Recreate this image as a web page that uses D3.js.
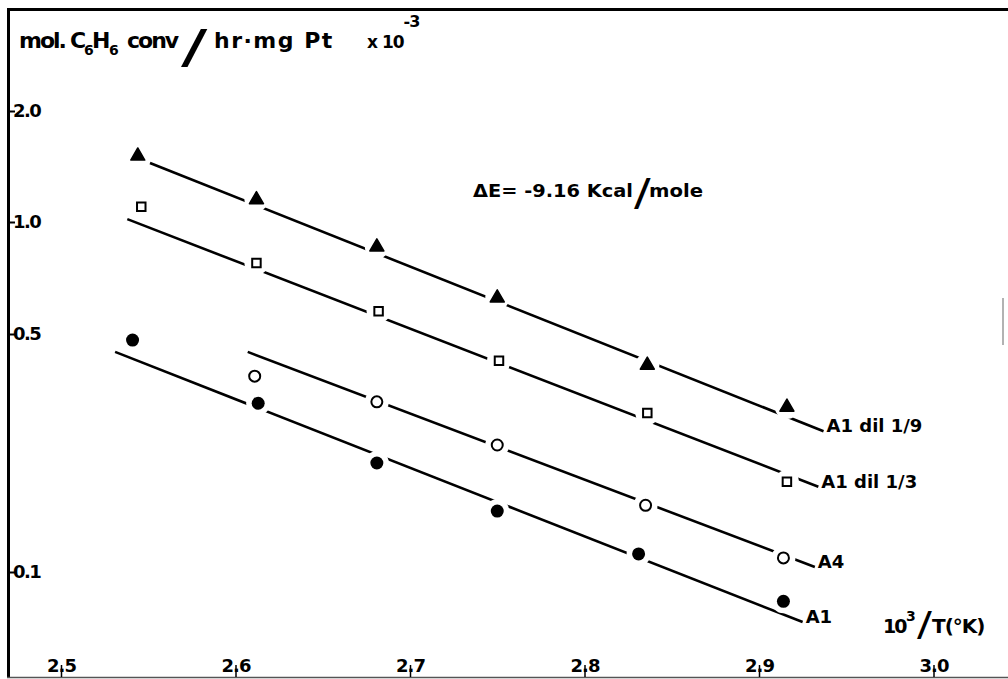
<!DOCTYPE html>
<html lang="en">
<head>
<meta charset="UTF-8">
<title>Benzene conversion vs 1/T</title>
<style>
  body { margin: 0; background: #fff; }
  svg text { font-family: "DejaVu Sans", sans-serif; font-weight: bold; fill: #000; }
</style>
</head>
<body>
<div id="chart"></div>
<script src="https://d3js.org/d3.v7.min.js"></script>
<script>
// 10^3/T (K) and rate (mol C6H6 conv / hr.mg Pt x 10^-3)
const triX = [2.544, 2.612, 2.681, 2.750, 2.836, 2.916];   // A1 dil 1/9
const triY = [1.51, 1.15, 0.857, 0.625, 0.405, 0.305];
const sqX = [2.546, 2.612, 2.682, 2.751, 2.836, 2.916];    // A1 dil 1/3
const sqY = [1.10, 0.776, 0.576, 0.417, 0.293, 0.184];
const ocX = [2.611, 2.681, 2.750, 2.835, 2.914];           // A4
const ocY = [0.376, 0.316, 0.236, 0.157, 0.110];
const fcX = [2.541, 2.613, 2.681, 2.750, 2.831, 2.914];    // A1
const fcY = [0.480, 0.313, 0.209, 0.151, 0.113, 0.082];

// drawn fit lines: [x0, y0, x1, y1]
const fitTri = [2.551, 1.446, 2.937, 0.259];
const fitSq = [2.538, 1.018, 2.934, 0.178];
const fitOc = [2.607, 0.443, 2.932, 0.1035];
const fitFc = [2.531, 0.443, 2.925, 0.0713];

const seriesNames = ["A1 dil 1/9", "A1 dil 1/3", "A4", "A1"];
const xTicks = [2.5, 2.6, 2.7, 2.8, 2.9, 3.0];
const yTicks = [2.0, 1.0, 0.5, 0.1];

const width = 1008, height = 679;

const svg = d3.select("#chart").append("svg")
    .attr("width", width)
    .attr("height", height);

const x = d3.scaleLinear().domain([2.5, 3.0]).range([61, 933.5]);
// the printed log axis is not quite even, so map each printed tick
const y = d3.scaleLog().domain([2.0, 1.0, 0.5, 0.1]).range([111, 222, 334, 572]);

// frame
svg.append("line").attr("x1", 8.5).attr("x2", 8.5).attr("y1", 9).attr("y2", 678)
    .attr("stroke", "#000").attr("stroke-width", 3);
svg.append("line").attr("x1", 7).attr("x2", 1008).attr("y1", 9.5).attr("y2", 9.5)
    .attr("stroke", "#000").attr("stroke-width", 3);
svg.append("line").attr("x1", 7).attr("x2", 1008).attr("y1", 677.5).attr("y2", 677.5)
    .attr("stroke", "#555").attr("stroke-width", 1.5);
svg.append("line").attr("x1", 1003).attr("x2", 1003).attr("y1", 298).attr("y2", 345)
    .attr("stroke", "#999").attr("stroke-width", 1.5);

// x axis (ticks point up into the labels)
const xAxis = svg.append("g")
    .attr("transform", "translate(0,677)")
    .call(d3.axisBottom(x).tickValues(xTicks).tickSize(-12).tickFormat(d3.format(".1f")));
xAxis.select(".domain").remove();
xAxis.selectAll("line").attr("stroke", "#000").attr("stroke-width", 1.5);
xAxis.selectAll("text")
    .attr("y", -5).attr("dy", null)
    .style("font-size", "18px").style("letter-spacing", "-1px");

// y axis
const yAxis = svg.append("g")
    .attr("transform", "translate(9,0)")
    .call(d3.axisRight(y).tickValues(yTicks).tickSize(6).tickPadding(-2).tickFormat(d3.format(".1f")));
yAxis.select(".domain").remove();
yAxis.selectAll("line").attr("stroke", "#000").attr("stroke-width", 2);
yAxis.selectAll("text")
    .style("font-size", "18px").style("letter-spacing", "-1.5px");

// fit lines
const fits = [fitTri, fitSq, fitOc, fitFc];
const line = d3.line().x(d => x(d[0])).y(d => y(d[1]));
svg.selectAll(".fit").data(fits).enter().append("path")
    .attr("class", "fit")
    .attr("d", f => line([[f[0], f[1]], [f[2], f[3]]]))
    .attr("fill", "none").attr("stroke", "#000").attr("stroke-width", 2.6);

// series labels at line ends
svg.selectAll(".slabel").data(fits).enter().append("text")
    .attr("class", "slabel")
    .attr("x", f => x(f[2]) + 3)
    .attr("y", f => y(f[3]) + 1)
    .style("font-size", "18px")
    .text((f, i) => seriesNames[i]);

const pts = (xs, ys) => xs.map((v, i) => [v, ys[i]]);
const all = [].concat(pts(triX, triY), pts(sqX, sqY), pts(ocX, ocY), pts(fcX, fcY));

// white gaps in the lines around the markers
svg.selectAll(".halo").data(all).enter().append("circle")
    .attr("class", "halo")
    .attr("cx", d => x(d[0])).attr("cy", d => y(d[1]))
    .attr("r", 12).attr("fill", "#fff");

// markers
svg.selectAll(".tri").data(pts(triX, triY)).enter().append("path")
    .attr("class", "tri")
    .attr("transform", d => `translate(${x(d[0])},${y(d[1])})`)
    .attr("d", d3.symbol(d3.symbolTriangle, 85))
    .attr("fill", "#000").attr("stroke", "#000").attr("stroke-width", 1.5)
    .attr("stroke-linejoin", "round");

svg.selectAll(".sq").data(pts(sqX, sqY)).enter().append("path")
    .attr("class", "sq")
    .attr("transform", d => `translate(${x(d[0])},${y(d[1])})`)
    .attr("d", d3.symbol(d3.symbolSquare, 72))
    .attr("fill", "#fff").attr("stroke", "#000").attr("stroke-width", 2);

svg.selectAll(".oc").data(pts(ocX, ocY)).enter().append("circle")
    .attr("class", "oc")
    .attr("cx", d => x(d[0])).attr("cy", d => y(d[1])).attr("r", 5.5)
    .attr("fill", "#fff").attr("stroke", "#000").attr("stroke-width", 2);

svg.selectAll(".fc").data(pts(fcX, fcY)).enter().append("circle")
    .attr("class", "fc")
    .attr("cx", d => x(d[0])).attr("cy", d => y(d[1])).attr("r", 6.5)
    .attr("fill", "#000");

// y axis title
const t1 = svg.append("text").attr("y", 48).style("font-size", "22px");
t1.append("tspan").attr("x", 19).style("letter-spacing", "-2px").text("mol.");
t1.append("tspan").attr("x", 70).style("letter-spacing", "-1px").text("C");
t1.append("tspan").attr("x", 84).attr("dy", 7).style("font-size", "14px").text("6");
t1.append("tspan").attr("x", 92).attr("dy", -7).text("H");
t1.append("tspan").attr("x", 109).attr("dy", 7).style("font-size", "14px").text("6");
t1.append("tspan").attr("x", 127).attr("dy", -7).style("letter-spacing", "-2px").text("conv");

svg.append("text").attr("transform", "translate(181,63) scale(1.7,1)")
    .style("font-size", "46px").style("font-weight", "normal").text("/");

svg.append("text").attr("x", 214).attr("y", 48).style("font-size", "22px")
    .style("letter-spacing", "1.5px").text("hr·mg Pt");

const t2 = svg.append("text").attr("x", 367).attr("y", 48).style("font-size", "17px")
    .style("letter-spacing", "-1px");
t2.append("tspan").text("x 10");
t2.append("tspan").attr("dy", -21).style("font-size", "16px").text("-3");

// activation energy note
svg.append("text").attr("x", 473).attr("y", 197).style("font-size", "18px")
    .attr("textLength", 160).attr("lengthAdjust", "spacingAndGlyphs").text("ΔE= -9.16 Kcal");
svg.append("text").attr("transform", "translate(634,205) scale(1.3,1)")
    .style("font-size", "38px").style("font-weight", "normal").text("/");
svg.append("text").attr("x", 649).attr("y", 197).style("font-size", "18px")
    .attr("textLength", 54).attr("lengthAdjust", "spacingAndGlyphs").text("mole");

// x axis title
const t3 = svg.append("text").attr("y", 633).style("font-size", "19px")
    .style("letter-spacing", "-2px");
t3.append("tspan").attr("x", 883).text("10");
t3.append("tspan").attr("x", 906).attr("dy", -12).style("font-size", "14px")
    .style("letter-spacing", "0px").text("3");
svg.append("text").attr("transform", "translate(917,636) scale(1.3,1)")
    .style("font-size", "34px").style("font-weight", "normal").text("/");
svg.append("text").attr("x", 932).attr("y", 633).style("font-size", "20px")
    .style("letter-spacing", "-1px").text("T(°K)");
</script>
</body>
</html>
